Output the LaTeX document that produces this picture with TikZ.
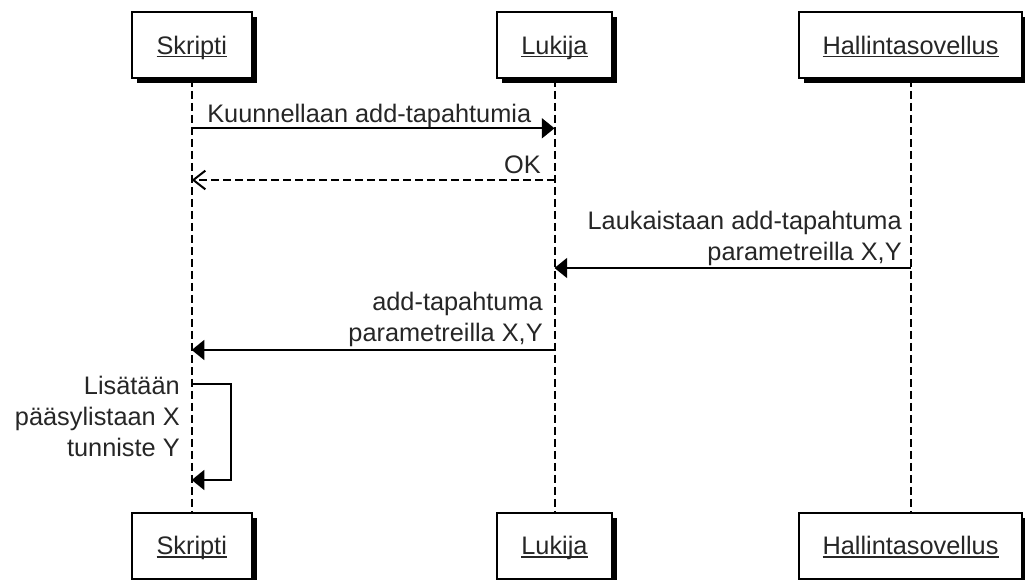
\documentclass[tikz,border=0pt]{standalone}
\usepackage{fontspec}
\setmainfont{Liberation Sans}
\usetikzlibrary{arrows.meta,shadows}
% participant name, underlined through the descenders
\newcommand\actorname[1]{\setbox0=\hbox{#1}\rlap{\rule[-2.4pt]{\wd0}{1.1pt}}\box0}
\begin{document}
\begin{tikzpicture}[x=0.75pt,y=-0.75pt,
  every node/.style={font=\fontsize{19}{23.25}\selectfont, inner sep=0pt, text=black!85},
  actor/.style={draw=black, line width=1.5pt, fill=white, minimum height=49.5pt,
    text height=17.6pt, text depth=4pt,
    drop shadow={shadow xshift=3.75pt, shadow yshift=-3.75pt, fill=black, opacity=1}},
  lifeline/.style={line width=1.5pt, dash pattern=on 6pt off 3pt},
  msg/.style={line width=1.5pt, -{Triangle[length=9.5pt,width=15pt]}},
  reply/.style={line width=1.5pt, dash pattern=on 6pt off 3pt,
    -{Straight Barb[length=9pt,width=14pt]}},
]
\useasboundingbox (0,0) rectangle (1025,580);

% participants, top and bottom
\node[actor, minimum width=90pt]     (skT) at (191.7,45) {\actorname{Skripti}};
\node[actor, minimum width=86.25pt]  (lkT) at (554.5,45) {\actorname{Lukija}};
\node[actor, minimum width=167.25pt] (hsT) at (910.5,45) {\actorname{Hallintasovellus}};
\node[actor, minimum width=90pt]     (skB) at (191.7,545.7) {\actorname{Skripti}};
\node[actor, minimum width=86.25pt]  (lkB) at (554.5,545.7) {\actorname{Lukija}};
\node[actor, minimum width=167.25pt] (hsB) at (910.5,545.7) {\actorname{Hallintasovellus}};

% lifelines
\draw[lifeline] (skT.south) -- (skB.north);
\draw[lifeline] (lkT.south) -- (lkB.north);
\draw[lifeline] (hsT.south) -- (hsB.north);

% message levels
\coordinate (y1) at (0,128.3);
\coordinate (y2) at (0,180);
\coordinate (y3) at (0,268);
\coordinate (y4) at (0,350);
\coordinate (y5a) at (0,384);
\coordinate (y5b) at (0,480);
\coordinate (loop) at (231,0);

% messages
\draw[msg]   (skT |- y1) -- (lkT |- y1);
\draw[reply] (lkT |- y2) -- (skT |- y2);
\draw[msg]   (hsT |- y3) -- (lkT |- y3);
\draw[msg]   (lkT |- y4) -- (skT |- y4);
\draw[msg]   (skT |- y5a) -- (loop |- y5a) -- (loop |- y5b) -- (skT |- y5b);

% message labels
\node[anchor=base west] (t1) at (207,122.7) {Kuunnellaan add-tapahtumia};
\node[anchor=base east] (t2) at (541,174) {OK};
\node[anchor=base east] (t3) at (902,261)
  {\begin{tabular}[b]{@{}r@{}}Laukaistaan add-tapahtuma\\parametreilla X,Y\end{tabular}};
\node[anchor=base east] (t4) at (543,342)
  {\begin{tabular}[b]{@{}r@{}}add-tapahtuma\\parametreilla X,Y\end{tabular}};
\node[anchor=base east] (t5) at (180,456.7)
  {\begin{tabular}[b]{@{}r@{}}Lisätään\\pääsylistaan X\\tunniste Y\end{tabular}};
\end{tikzpicture}
\end{document}
